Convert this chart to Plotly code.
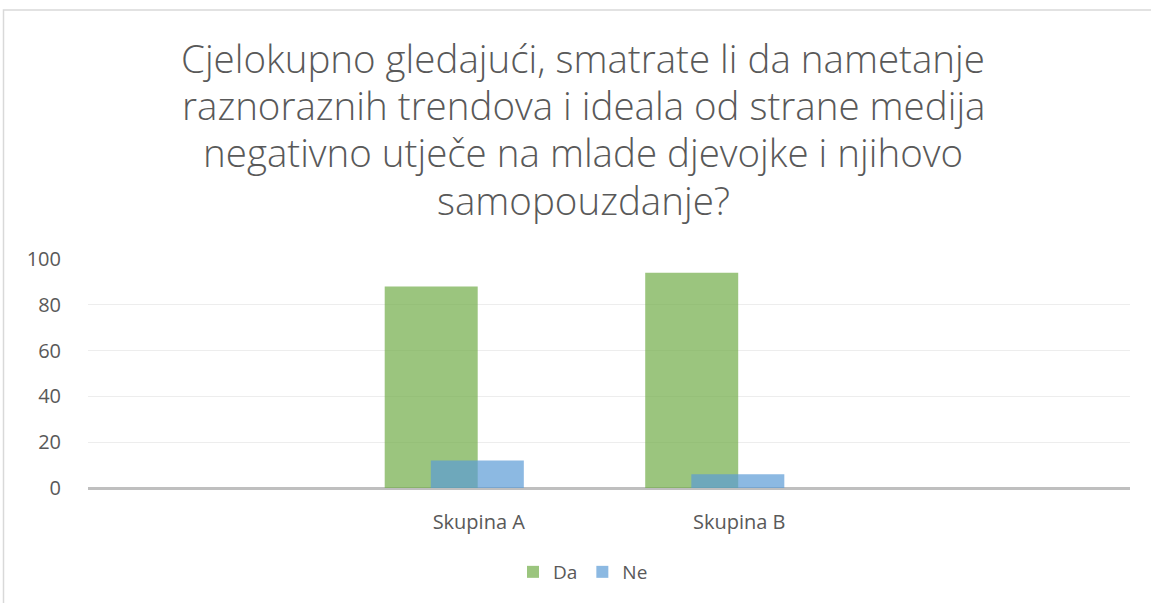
import plotly.graph_objects as go

categories = ["", "Skupina A", "Skupina B", " "]
da_values = [None, 88, 94, None]
ne_values = [None, 12, 6, None]
y_ticks = [0, 20, 40, 60, 80, 100]
title_lines = [
    "Cjelokupno gledajući, smatrate li da nametanje",
    "raznoraznih trendova i ideala od strane medija",
    "negativno utječe na mlade djevojke i njihovo",
    "samopouzdanje?",
]

W, H = 1151, 603
L, R, T, B = 88, 21, 259, 115
pw = W - L - R
ph = H - T - B

def px_x(p):
    return (p - L) / pw

def px_y(p):
    return (H - B - p) / ph

bar_w = 0.357
fig = go.Figure()
fig.add_trace(go.Bar(
    name="Da", x=categories, y=da_values,
    width=bar_w, offset=-0.361,
    marker=dict(color="rgba(112,173,71,0.7)", line=dict(width=0)),
))
fig.add_trace(go.Bar(
    name="Ne", x=categories, y=ne_values,
    width=bar_w, offset=-0.184,
    marker=dict(color="rgba(91,155,213,0.7)", line=dict(width=0)),
))

font_family = "Open Sans"
grey = "#595959"

annotations = []
line_centers = [58, 105, 152, 200]
for txt, yc in zip(title_lines, line_centers):
    annotations.append(dict(
        text=txt, xref="paper", yref="paper",
        x=px_x(583), y=px_y(yc), xanchor="center", yanchor="middle",
        showarrow=False,
        font=dict(family=font_family, size=38.5, color=grey, weight=300),
    ))

fig.update_layout(
    width=W, height=H,
    margin=dict(l=L, r=R, t=T, b=B, pad=0),
    paper_bgcolor="white", plot_bgcolor="white",
    barmode="overlay",
    showlegend=True,
    legend=dict(
        orientation="h", x=px_x(583), xanchor="center",
        y=px_y(572), yanchor="middle",
        font=dict(family=font_family, size=19, color=grey),
        itemsizing="constant", traceorder="normal",
        itemwidth=30,
    ),
    xaxis=dict(
        type="category", categoryorder="array", categoryarray=categories,
        showgrid=False, showline=False, ticks="",
        tickfont=dict(family=font_family, size=20, color=grey),
        ticklabelstandoff=20,
        range=[-0.5, 3.5], fixedrange=True,
    ),
    yaxis=dict(
        range=[0, 100], tickvals=y_ticks,
        showgrid=True, gridcolor="#EDEDED", gridwidth=1,
        zeroline=True, zerolinecolor="#BFBFBF", zerolinewidth=2.5,
        showline=False, ticks="", ticklabelstandoff=26,
        tickfont=dict(family=font_family, size=20, color=grey),
        fixedrange=True,
    ),
    annotations=annotations,
    shapes=[dict(
        type="rect", xref="paper", yref="paper",
        x0=px_x(3.5), x1=px_x(W + 20), y0=px_y(H + 20), y1=px_y(10),
        line=dict(color="#D9D9D9", width=1.5), fillcolor="rgba(0,0,0,0)",
        layer="below",
    )],
    font=dict(family=font_family),
)

fig.write_html(
    "out.html",
    config={"displayModeBar": False},
    post_script="document.body.style.margin='0';document.body.style.overflow='hidden';",
)
